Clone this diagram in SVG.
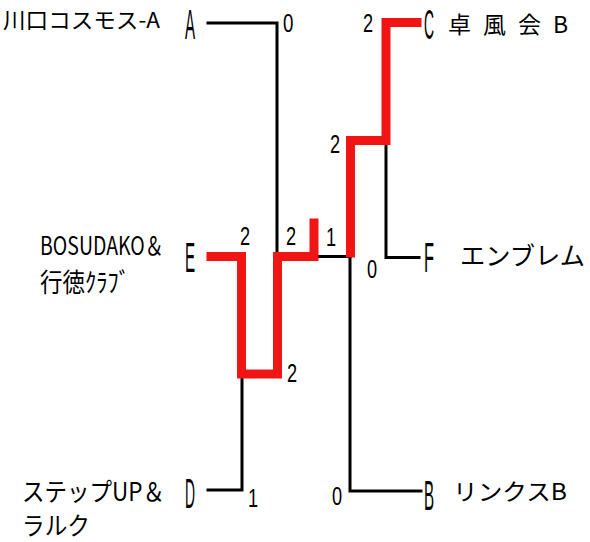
<svg xmlns="http://www.w3.org/2000/svg" width="590" height="542" viewBox="0 0 590 542">
<style>
.bk{fill:none;stroke:#000;stroke-width:3;stroke-linecap:square;stroke-linejoin:miter}
.rd{fill:none;stroke:#f01414;stroke-width:9;stroke-linecap:square;stroke-linejoin:miter}
.lt{font-family:"Liberation Sans",Arial,sans-serif;font-size:42px;fill:#000}
.dg{font-family:"Liberation Sans",Arial,sans-serif;font-size:26px;fill:#000}
.nm{font-family:"Noto Sans CJK JP","Noto Sans",sans-serif;fill:#000}
</style>
<rect width="590" height="542" fill="#fff"/>
<g id="connectors">
<path class="bk" d="M208 23 H277 V253"/>
<path class="bk" d="M386 145 V257.5 H419"/>
<path class="bk" d="M208 490 H242 V378"/>
<path class="bk" d="M350 257 V491 H421"/>
<path class="bk" d="M318 256.5 H350"/>
<path class="rd" d="M211 256.5 H241.5 V374 H277.5 V256.5 H314 V223"/>
<path class="rd" d="M350.5 253 V140.5 H386 V22.5 H417"/>
</g>
<g id="scores">
<text class="dg" transform="translate(283,32) scale(0.72,1)">0</text>
<text class="dg" transform="translate(363,32) scale(0.7,1)">2</text>
<text class="dg" transform="translate(330,153) scale(0.7,1)">2</text>
<text class="dg" transform="translate(240,245) scale(0.7,1)">2</text>
<text class="dg" transform="translate(286,245) scale(0.7,1)">2</text>
<text class="dg" transform="translate(326,246) scale(0.7,1)">1</text>
<text class="dg" transform="translate(367,278) scale(0.7,1)">0</text>
<text class="dg" transform="translate(287,382) scale(0.7,1)">2</text>
<text class="dg" transform="translate(248,507) scale(0.7,1)">1</text>
<text class="dg" transform="translate(332,505) scale(0.7,1)">0</text>
</g>
<g id="nodeA">
<text class="nm" x="3" y="28" font-size="22" textLength="157" lengthAdjust="spacingAndGlyphs">川口コスモス-A</text>
<text class="lt" transform="translate(185,39) scale(0.36,1)">A</text>
</g>
<g id="nodeC">
<text class="lt" transform="translate(424,39) scale(0.33,1)">C</text>
<text class="nm" x="448" y="33" font-size="23" textLength="120" lengthAdjust="spacing">卓 風 会 B</text>
</g>
<g id="nodeE">
<text class="nm" font-size="25" transform="translate(40,255) scale(0.78,1)">BOSUDAKO＆</text>
<text class="nm" x="40" y="292" font-size="26" textLength="90" lengthAdjust="spacingAndGlyphs">行徳ｸﾗﾌﾞ</text>
<text class="lt" transform="translate(185,272) scale(0.36,1)">E</text>
</g>
<g id="nodeF">
<text class="lt" transform="translate(424,272) scale(0.39,1)">F</text>
<text class="nm" x="460" y="265" font-size="25" textLength="125" lengthAdjust="spacingAndGlyphs">エンブレム</text>
</g>
<g id="nodeD">
<text class="nm" x="22" y="501" font-size="25" textLength="143" lengthAdjust="spacingAndGlyphs">ステップUP＆</text>
<text class="nm" x="22" y="535" font-size="25" textLength="68" lengthAdjust="spacingAndGlyphs">ラルク</text>
<text class="lt" transform="translate(185,508) scale(0.33,1)">D</text>
</g>
<g id="nodeB">
<text class="lt" transform="translate(424,510) scale(0.36,1)">B</text>
<text class="nm" x="453" y="500" font-size="23" textLength="114" lengthAdjust="spacingAndGlyphs">リンクスB</text>
</g>
</svg>
